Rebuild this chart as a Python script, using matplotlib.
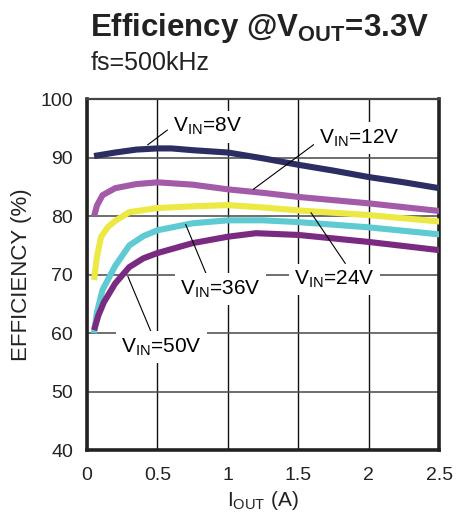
import numpy as np
import matplotlib
matplotlib.use('Agg')
import matplotlib.pyplot as plt

plt.rcParams['font.family'] = ['Liberation Sans', 'DejaVu Sans']
plt.rcParams['mathtext.fontset'] = 'custom'
plt.rcParams['mathtext.rm'] = 'Liberation Sans'
plt.rcParams['mathtext.it'] = 'Liberation Sans'
plt.rcParams['mathtext.bf'] = 'Liberation Sans:bold'

# Output current (A) and efficiency (%) for each input voltage
iout_8v = [0.05, 0.2, 0.35, 0.5, 0.6, 0.75, 1.0, 1.25, 1.5, 1.75, 2.0, 2.25, 2.5]
eff_8v = [90.3, 90.9, 91.4, 91.6, 91.6, 91.3, 90.9, 89.9, 88.8, 87.8, 86.7, 85.8, 84.8]

iout_12v = [0.05, 0.07, 0.11, 0.2, 0.35, 0.5, 0.75, 1.0, 1.25, 1.5, 2.0, 2.5]
eff_12v = [80.0, 81.8, 83.6, 84.8, 85.5, 85.8, 85.4, 84.6, 84.0, 83.3, 82.2, 80.9]

iout_24v = [0.05, 0.07, 0.1, 0.15, 0.2, 0.3, 0.5, 0.75, 1.0, 1.25, 1.5, 2.0, 2.5]
eff_24v = [69.1, 73.0, 76.5, 78.2, 79.2, 80.7, 81.4, 81.7, 81.9, 81.5, 81.0, 80.2, 79.1]

iout_36v = [0.05, 0.07, 0.11, 0.2, 0.3, 0.4, 0.5, 0.75, 1.0, 1.25, 1.5, 2.0, 2.5]
eff_36v = [60.0, 63.5, 67.4, 71.5, 75.0, 76.6, 77.6, 78.8, 79.3, 79.3, 79.0, 78.1, 76.9]

iout_50v = [0.05, 0.08, 0.12, 0.2, 0.3, 0.4, 0.5, 0.75, 1.0, 1.2, 1.5, 2.0, 2.5]
eff_50v = [60.5, 63.0, 65.3, 68.5, 71.3, 72.8, 73.7, 75.4, 76.5, 77.1, 76.8, 75.6, 74.2]

labels = ['8V', '12V', '24V', '36V', '50V']
colors = ['#2c2d62', '#a35aa8', '#ece844', '#5ecbd3', '#7a2a80']

x_ticks = [0, 0.5, 1, 1.5, 2, 2.5]
x_ticklabels = ['0', '0.5', '1', '1.5', '2', '2.5']
y_ticks = [40, 50, 60, 70, 80, 90, 100]

# label text anchor, curve tip, and where the leader leaves the text
label_pos = {
    '8V': ((0.61, 95.3), (0.43, 92.2), (-0.08, 0.35)),
    '12V': ((1.65, 93.4), (1.18, 84.6), (-0.03, 0.3)),
    '24V': ((1.47, 69.2), (1.59, 80.6), (0.68, 1.0)),
    '36V': ((0.66, 67.5), (0.70, 78.6), (0.35, 1.0)),
    '50V': ((0.24, 57.6), (0.29, 69.7), (0.4, 1.0)),
}

fig = plt.figure(figsize=(4.58, 5.12), dpi=100)
ax = fig.add_axes([0.19, 0.121, 0.769, 0.685])

series = [(iout_8v, eff_8v), (iout_12v, eff_12v), (iout_24v, eff_24v),
          (iout_36v, eff_36v), (iout_50v, eff_50v)]
for (xs, ys), c in zip(series, colors):
    ax.plot(xs, ys, color=c, lw=4.4, solid_capstyle='butt', zorder=3)

for lab in labels:
    (tx, ty), (px, py), rel = label_pos[lab]
    ax.annotate(r'V$_{\mathrm{IN}}$=' + lab, xy=(px, py), xytext=(tx, ty),
                fontsize=15, ha='left', va='center', zorder=4,
                bbox=dict(boxstyle='square,pad=0.25', fc='white', ec='none'),
                arrowprops=dict(arrowstyle='-', color='black', lw=0.8,
                                relpos=rel, shrinkA=0, shrinkB=0))

ax.set_xlim(0, 2.5)
ax.set_ylim(40, 100)
ax.set_xticks(x_ticks)
ax.set_xticklabels(x_ticklabels)
ax.set_yticks(y_ticks)
ax.tick_params(length=0, labelsize=14, colors='#222222')
ax.tick_params(axis='x', pad=12)
ax.tick_params(axis='y', pad=10)
ax.grid(True, axis='y', color='#555555', lw=1.2, zorder=1)
ax.grid(True, axis='x', color='#111111', lw=1.0, zorder=1)

for side in ['left', 'bottom', 'right']:
    ax.spines[side].set_linewidth(2.6)
    ax.spines[side].set_color('#222222')
ax.spines['top'].set_linewidth(1.6)
ax.spines['top'].set_color('#444444')

ax.set_ylabel('EFFICIENCY (%)', fontsize=16, labelpad=6, color='#222222')
ax.set_xlabel(r'I$_{\mathrm{OUT}}$ (A)', fontsize=15, labelpad=4, color='#222222')

fig.text(0.197, 0.930, r'Efficiency @V$_{\mathbf{OUT}}$=3.3V', fontsize=22.5,
         fontweight='bold', color='#222222', va='baseline', ha='left')
fig.text(0.197, 0.863, 'fs=500kHz', fontsize=18, color='#222222',
         va='baseline', ha='left')

fig.savefig('out.png', dpi=100)
